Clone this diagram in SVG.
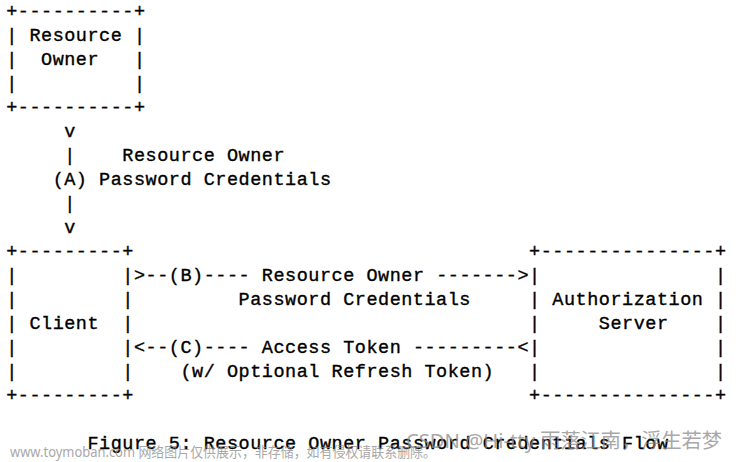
<svg xmlns="http://www.w3.org/2000/svg" width="738" height="462" viewBox="0 0 738 462">
<style>
  .t { font-family: "Liberation Mono", "DejaVu Sans Mono", monospace; font-size: 18.5px; letter-spacing: 0.52px; fill: #000; stroke: #000; stroke-width: 0.35px; white-space: pre; }
  .wm { font-family: "Noto Sans", "Noto Sans CJK SC", sans-serif; fill: #8c8c8c; white-space: pre; }
</style>
<rect width="738" height="462" fill="#ffffff"/>
<g id="resource-owner">
  <text class="t" xml:space="preserve" x="6.15" y="17">+----------+</text>
  <text class="t" xml:space="preserve" x="6.15" y="41">| Resource |</text>
  <text class="t" xml:space="preserve" x="6.15" y="65">|  Owner   |</text>
  <text class="t" xml:space="preserve" x="6.15" y="89">|          |</text>
  <text class="t" xml:space="preserve" x="6.15" y="113">+----------+</text>
</g>
<g id="client">
  <text class="t" xml:space="preserve" x="6.15" y="257">+---------+</text>
  <text class="t" xml:space="preserve" x="6.15" y="281">|         |</text>
  <text class="t" xml:space="preserve" x="6.15" y="305">|         |</text>
  <text class="t" xml:space="preserve" x="6.15" y="329">| Client  |</text>
  <text class="t" xml:space="preserve" x="6.15" y="353">|         |</text>
  <text class="t" xml:space="preserve" x="6.15" y="377">|         |</text>
  <text class="t" xml:space="preserve" x="6.15" y="401">+---------+</text>
</g>
<g id="authorization-server">
  <text class="t" xml:space="preserve" x="529.05" y="257">+---------------+</text>
  <text class="t" xml:space="preserve" x="529.05" y="281">|               |</text>
  <text class="t" xml:space="preserve" x="529.05" y="305">| Authorization |</text>
  <text class="t" xml:space="preserve" x="529.05" y="329">|     Server    |</text>
  <text class="t" xml:space="preserve" x="529.05" y="353">|               |</text>
  <text class="t" xml:space="preserve" x="529.05" y="377">|               |</text>
  <text class="t" xml:space="preserve" x="529.05" y="401">+---------------+</text>
</g>
<g id="connectors">
  <g id="flow-a">
    <text class="t" x="64.25" y="137">v</text>
    <text class="t" x="64.25" y="161">|</text>
    <text class="t" xml:space="preserve" x="122.35" y="161">Resource Owner</text>
    <text class="t" xml:space="preserve" x="52.63" y="185">(A) Password Credentials</text>
    <text class="t" x="64.25" y="209">|</text>
    <text class="t" x="64.25" y="233">v</text>
  </g>
  <g id="flow-b">
    <text class="t" xml:space="preserve" x="133.97" y="281">&gt;--(B)---- Resource Owner -------&gt;</text>
    <text class="t" xml:space="preserve" x="238.55" y="305">Password Credentials</text>
  </g>
  <g id="flow-c">
    <text class="t" xml:space="preserve" x="133.97" y="353">&lt;--(C)---- Access Token ---------&lt;</text>
    <text class="t" xml:space="preserve" x="180.45" y="377">(w/ Optional Refresh Token)</text>
  </g>
</g>
<g id="caption">
  <text class="t" xml:space="preserve" x="87.49" y="449">Figure 5: Resource Owner Password Credentials Flow</text>
</g>
<g id="watermarks" opacity="0.75">
  <text class="wm" xml:space="preserve" x="10" y="457" font-size="13.5" textLength="426" lengthAdjust="spacingAndGlyphs">www.toymoban.com 网络图片仅供展示，非存储，如有侵权请联系删除。</text>
  <text class="wm" xml:space="preserve" x="406" y="448" font-size="20" textLength="316" lengthAdjust="spacingAndGlyphs">CSDN @Hi-tty 雨落江南，浮生若梦</text>
</g>
</svg>
